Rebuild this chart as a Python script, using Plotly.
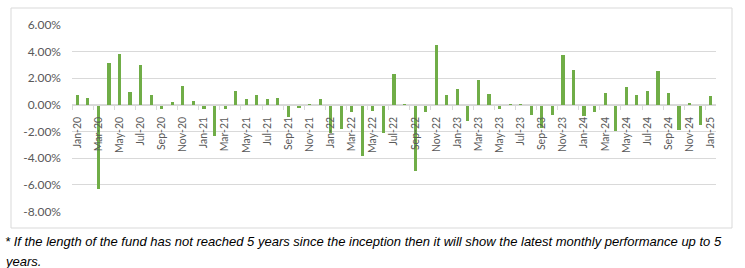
import plotly.graph_objects as go
import pandas as pd

# ---- data ----
months = [d.strftime("%b-%y") for d in pd.date_range("2020-01-01", "2025-01-01", freq="MS")]
returns_pct = [
    0.76, 0.48, -6.35, 3.14, 3.80, 0.94, 2.99, 0.76, -0.35, 0.20, 1.37, 0.25,   # 2020
    -0.35, -2.38, -0.30, 1.01, 0.43, 0.71, 0.46, 0.53, -0.95, -0.25, -0.03, 0.40,  # 2021
    -2.10, -1.82, -0.55, -3.85, -0.50, -2.13, 2.28, -0.10, -4.97, -0.58, 4.48, 0.70,  # 2022
    1.16, -1.24, 1.82, 0.78, -0.35, 0.02, -0.02, -0.74, -1.75, -0.78, 3.70, 2.61,  # 2023
    -0.86, -0.56, 0.84, -2.00, 1.32, 0.76, 0.99, 2.56, 0.91, -1.88, 0.08, -1.52,  # 2024
    0.63,  # 2025
]
y_ticks = [6, 4, 2, 0, -2, -4, -6, -8]
y_tick_text = ["6.00%", "4.00%", "2.00%", "0.00%", "-2.00%", "-4.00%", "-6.00%", "-8.00%"]
footnote_1 = ("* If the length of the fund has not reached 5 years since the inception "
              "then it will show the latest monthly performance up to 5")
footnote_2 = "years."

# ---- layout constants (pixels) ----
W, H = 745, 268
ML, MR, MT, MB = 72, 29, 24, 56
PW, PH = W - ML - MR, H - MT - MB
YMIN, YMAX = -8.05, 6.05


def px_x(px):
    return (px - ML) / PW


def px_y(py):
    return (H - MB - py) / PH


idx = list(range(len(months)))
label_idx = idx[::2]

fig = go.Figure()
fig.add_trace(go.Bar(
    x=idx, y=returns_pct, width=0.3,
    marker=dict(color="#70AD47", line=dict(width=0)),
    hovertemplate="%{text}: %{y:.2f}%<extra></extra>", text=months, textposition="none",
))

tick_font = dict(family="Lato, 'Open Sans', sans-serif", color="#595959")
note_font = dict(family="'Liberation Sans', Arial, sans-serif", size=13, color="#000000", style="italic")

fig.update_layout(
    width=W, height=H,
    margin=dict(l=ML, r=MR, t=MT, b=MB, pad=0),
    paper_bgcolor="white", plot_bgcolor="white",
    showlegend=False, bargap=0,
    xaxis=dict(
        range=[-0.5, len(months) - 0.5],
        tickvals=label_idx, ticktext=[months[i] for i in label_idx],
        tickangle=-90, ticks="", tickfont=dict(size=10.5, **tick_font),
        showgrid=False, zeroline=False,
        showline=True, linecolor="#d9d9d9", linewidth=1,
        anchor="free", position=(0 - YMIN) / (YMAX - YMIN),
        ticklabelstandoff=7,
        minor=dict(ticks="outside", tick0=-0.5, dtick=2, ticklen=4,
                   tickcolor="#d9d9d9", tickwidth=1, showgrid=False),
    ),
    yaxis=dict(
        range=[YMIN, YMAX], tickvals=y_ticks, ticktext=y_tick_text,
        tickfont=dict(size=12, **tick_font),
        showgrid=True, gridcolor="#d9d9d9", gridwidth=1,
        zeroline=False, showline=False, ticks="", ticklabelstandoff=10,
    ),
    shapes=[dict(
        type="rect", xref="paper", yref="paper",
        x0=px_x(11), x1=px_x(732), y0=px_y(228), y1=px_y(8),
        line=dict(color="#d9d9d9", width=1), fillcolor="rgba(0,0,0,0)", layer="below",
    )],
    annotations=[
        dict(text=footnote_1, xref="paper", yref="paper", x=px_x(3), y=px_y(241),
             xanchor="left", yanchor="middle", showarrow=False, font=note_font),
        dict(text=footnote_2, xref="paper", yref="paper", x=px_x(3), y=px_y(261),
             xanchor="left", yanchor="middle", showarrow=False, font=note_font),
    ],
)

fig.write_html(
    "out.html",
    config={"displayModeBar": False},
    post_script="document.body.style.margin='0';document.body.style.padding='0';",
)
